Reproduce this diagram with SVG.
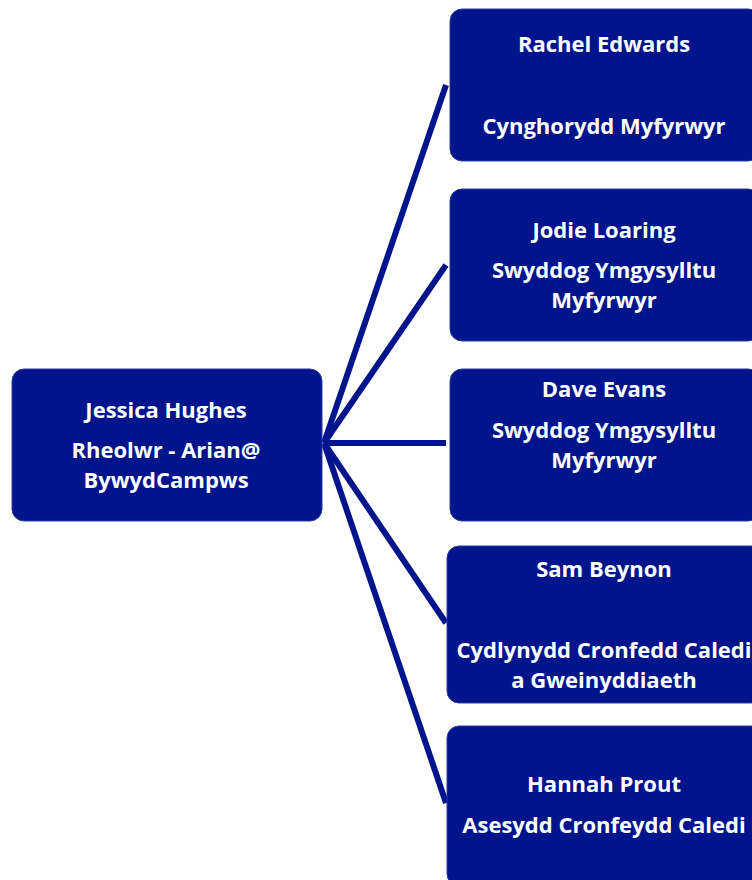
<svg xmlns="http://www.w3.org/2000/svg" width="752" height="880" viewBox="0 0 752 880">
<style>
.box{fill:#00158c;stroke:#2a3d9e;stroke-width:1}
.t{font-family:"Open Sans","Liberation Sans",sans-serif;font-weight:700;font-size:22px;fill:#ffffff;text-anchor:middle}
.c{stroke:#00158c;stroke-width:6;fill:none}
</style>
<rect width="752" height="880" fill="#ffffff"/>
<g id="connectors">
<line class="c" x1="324" y1="443" x2="446" y2="85"/>
<line class="c" x1="324" y1="443" x2="446" y2="265"/>
<line class="c" x1="324" y1="443" x2="446" y2="443"/>
<line class="c" x1="324" y1="443" x2="446" y2="623"/>
<line class="c" x1="324" y1="443" x2="446" y2="803"/>
</g>
<g id="jessica">
<rect class="box" x="12" y="369" width="310" height="152" rx="12"/>
<text class="t" x="166" y="418">Jessica Hughes</text>
<text class="t" x="166" y="458">Rheolwr - Arian@</text>
<text class="t" x="166" y="488">BywydCampws</text>
</g>
<g id="rachel">
<rect class="box" x="450" y="9" width="310" height="152" rx="12"/>
<text class="t" x="604" y="52">Rachel Edwards</text>
<text class="t" x="604" y="134">Cynghorydd Myfyrwyr</text>
</g>
<g id="jodie">
<rect class="box" x="450" y="189" width="310" height="152" rx="12"/>
<text class="t" x="604" y="238">Jodie Loaring</text>
<text class="t" x="604" y="278">Swyddog Ymgysylltu</text>
<text class="t" x="604" y="308">Myfyrwyr</text>
</g>
<g id="dave">
<rect class="box" x="450" y="369" width="310" height="152" rx="12"/>
<text class="t" x="604" y="397">Dave Evans</text>
<text class="t" x="604" y="438">Swyddog Ymgysylltu</text>
<text class="t" x="604" y="468">Myfyrwyr</text>
</g>
<g id="sam">
<rect class="box" x="447" y="546" width="316" height="157" rx="12"/>
<text class="t" x="604" y="577">Sam Beynon</text>
<text class="t" x="604" y="658">Cydlynydd Cronfedd Caledi</text>
<text class="t" x="604" y="688">a Gweinyddiaeth</text>
</g>
<g id="hannah">
<rect class="box" x="447" y="726" width="316" height="160" rx="12"/>
<text class="t" x="604" y="792">Hannah Prout</text>
<text class="t" x="604" y="833">Asesydd Cronfeydd Caledi</text>
</g>
</svg>
